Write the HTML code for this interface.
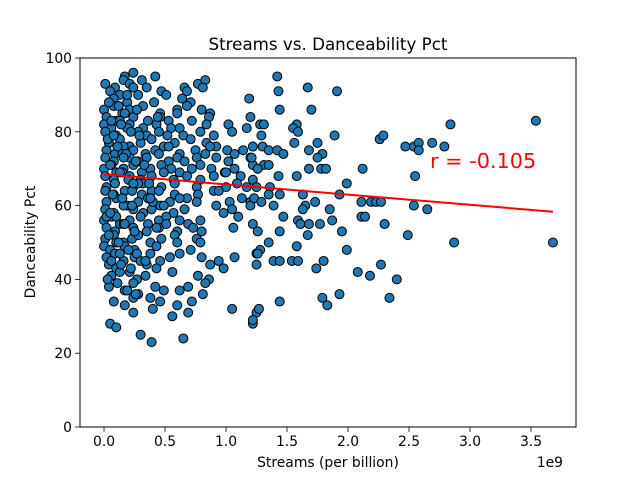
<!DOCTYPE html>
<html><head><meta charset="utf-8"><style>
html,body{margin:0;padding:0;background:#fff;}
svg{display:block;font-family:"DejaVu Sans","Liberation Sans",sans-serif;}
</style></head><body>
<svg id="chart" width="640" height="480" viewBox="0 0 640 480" xmlns="http://www.w3.org/2000/svg">
<rect width="640" height="480" fill="#fff"/>
<text x="328" y="50" text-anchor="middle" font-size="16.7">Streams vs. Danceability Pct</text>
<g id="points"></g>
<g id="fit"></g>
<rect x="80" y="58" width="496" height="369" fill="none" stroke="#000" stroke-width="1"/>
<g id="xticks"></g>
<g id="yticks"></g>
<text x="328" y="467" text-anchor="middle" font-size="13.9">Streams (per billion)</text>
<text x="563" y="467" text-anchor="end" font-size="13.9">1e9</text>
<text transform="translate(35,242) rotate(-90)" text-anchor="middle" font-size="13.9">Danceability Pct</text>
</svg>
<script>
const streams = [
0.17,0.24,0.31,0.42,
0.01,0.09,0.16,0.21,0.66,0.77,0.83,
0.05,0.13,0.24,0.47,0.51,0.68,0.81,
0.08,0.19,0.28,0.64,0.71,1.19,
0.00,0.08,0.15,0.21,0.32,0.46,0.60,0.68,0.80,0.87,
0.02,0.10,0.17,0.24,0.36,0.46,0.60,0.72,0.86,1.20,
0.00,0.06,0.13,0.21,0.32,0.43,0.53,0.62,0.84,1.02,1.17,1.28,
0.01,0.10,0.19,0.28,0.35,0.45,0.55,0.65,0.79,0.90,1.05,
0.04,0.13,0.21,0.30,0.39,0.49,0.58,0.71,0.84,0.92,
0.02,0.09,0.16,0.24,0.34,0.42,0.53,0.62,0.75,0.87,1.01,1.07,1.14,1.22,
0.01,0.08,0.15,0.21,0.28,0.35,0.45,0.53,0.60,0.66,0.76,0.83,0.92,1.02,1.20,
0.00,0.06,0.10,0.16,0.24,0.31,0.38,0.47,0.55,0.62,0.72,0.79,0.88,0.99,1.07,1.22,
0.01,0.08,0.15,0.21,0.30,0.39,0.49,0.57,0.68,0.79,0.90,1.00,1.12,1.22,
0.02,0.09,0.17,0.24,0.32,0.39,0.47,0.58,0.76,0.90,1.00,1.09,1.17,
0.01,0.08,0.15,0.23,0.31,0.38,0.45,0.58,0.68,0.77,0.94,
0.02,0.10,0.19,0.28,0.36,0.46,0.54,0.62,0.76,0.92,1.03,1.13,1.20,
0.01,0.08,0.16,0.24,0.32,0.39,0.49,0.57,0.66,0.98,1.05,1.20,
0.00,0.06,0.13,0.21,0.30,0.36,0.45,0.51,0.62,0.69,0.79,1.10,
0.02,0.09,0.16,0.24,0.35,0.45,0.51,0.60,0.73,0.80,1.06,1.22,
0.01,0.08,0.16,0.23,0.28,0.38,0.47,0.58,0.76,0.79,
0.00,0.05,0.10,0.17,0.25,0.43,0.60,0.71,
0.02,0.09,0.16,0.25,0.38,0.46,0.54,0.62,0.80,0.94,1.07,1.25,
0.04,0.10,0.30,0.35,0.43,0.87,0.98,
0.06,0.13,0.27,0.34,0.56,0.77,0.86,
0.04,0.17,0.24,0.42,0.62,0.69,0.83,
0.28,0.38,0.49,0.81,
0.08,0.17,0.24,0.46,0.60,0.72,
0.24,0.40,0.56,0.69,1.05,1.25,
0.05,0.10,1.22,
0.30,0.65,
0.39,
0.04,0.12,0.19,0.27,0.06,0.14,0.22,0.29,0.03,0.11,0.18,0.26,0.05,0.13,0.20,0.28,0.07,0.15,0.23,0.02,
0.10,0.17,0.25,0.04,0.12,0.20,0.27,0.06,0.14,0.21,0.03,0.11,0.19,0.26,0.08,0.16,0.24,0.05,0.13,0.22,
0.35,0.41,0.33,0.44,0.37,0.40,0.52,0.34,0.43,0.38,
1.42,1.43,1.67,1.91,1.44,1.70,1.31,1.58,1.55,1.59,1.29,1.89,1.56,1.75,1.30,1.35,1.42,1.68,1.47,1.79,1.75,1.21,1.31,1.35,1.26,1.68,1.78,1.82,2.12,
2.26,2.29,2.47,2.54,2.58,2.58,2.69,2.79,2.84,3.54,2.55,1.43,1.58,1.99,1.36,1.25,1.44,1.63,1.93,1.35,1.23,1.29,1.39,1.73,1.65,2.11,2.19,2.23,2.27,2.54,2.65,1.85,1.63,
1.47,2.11,2.14,1.59,1.61,1.68,1.77,1.87,2.30,1.44,1.26,1.67,1.95,2.49,2.87,3.68,1.35,1.58,1.28,1.26,1.99,
1.39,1.44,1.54,1.59,1.80,1.25,1.74,2.08,2.18,2.27,2.40,1.93,1.79,1.83,2.34,1.44,1.27,1.22
];
const danceability = [
95,96,94,95,
93,92,94,93,92,93,94,
91,90,92,91,90,91,92,
89,88,90,89,88,89,
86,87,85,86,87,85,86,87,86,85,
84,83,85,84,83,84,85,83,84,84,
82,81,83,82,81,82,83,81,82,82,81,82,
80,79,81,80,79,80,81,79,80,79,80,
77,78,76,77,78,76,77,78,77,76,
75,74,76,75,74,75,76,74,75,76,75,74,75,76,
73,72,74,73,72,73,74,72,73,72,73,74,73,72,73,
70,71,69,70,71,69,70,71,70,69,70,71,70,69,70,71,
68,67,69,68,67,68,69,67,68,67,68,69,68,67,
65,66,64,65,66,64,65,66,65,64,65,66,65,
64,63,62,64,63,62,64,63,62,63,64,
61,62,60,61,62,60,61,62,61,60,61,62,61,
59,58,60,59,58,59,60,58,59,58,59,60,
56,57,55,56,57,55,56,57,56,55,56,57,
54,53,55,54,53,54,55,53,54,53,54,55,
51,52,50,51,52,50,51,52,51,50,
49,48,50,49,48,49,50,48,
46,47,45,46,47,45,46,47,46,45,46,47,
44,43,45,44,43,44,43,
41,42,40,41,42,41,40,
38,37,39,38,37,38,39,
36,35,37,36,
34,33,35,34,33,34,
31,32,30,31,32,31,
28,27,28,
25,24,
23,
88,87,90,86,83,82,80,79,78,76,74,72,71,69,67,66,63,62,60,57,
57,55,53,52,50,48,47,45,44,42,40,39,37,36,79,73,66,58,47,43,
92,88,71,84,66,61,79,45,54,62,
95,91,92,91,86,86,82,82,81,80,79,79,77,77,76,75,75,75,74,74,73,73,71,71,70,70,70,70,70,
78,79,76,76,77,75,77,76,82,83,68,68,68,66,65,65,63,63,63,63,62,61,60,61,60,61,61,61,61,60,59,59,59,
57,57,57,56,55,55,55,56,55,53,53,52,53,52,50,50,50,49,48,47,48,
45,45,45,45,45,44,43,42,41,44,40,36,35,33,35,34,32,29
];
const xTickValues = [0,0.5,1.0,1.5,2.0,2.5,3.0,3.5];
const xTickLabels = ["0.0","0.5","1.0","1.5","2.0","2.5","3.0","3.5"];
const yTickValues = [0,20,40,60,80,100];
const yTickLabels = ["0","20","40","60","80","100"];
const fitSlope = [-2.76];
const fitIntercept = [68.5];
const rLabel = ["r = -0.105"];

const NS = "http://www.w3.org/2000/svg";
const X0=80,X1=576,Y0=58,Y1=427;
const xMin=-0.197,xMax=3.869,yMin=0,yMax=100;
function sx(v){return X0+(v-xMin)/(xMax-xMin)*(X1-X0);}
function sy(v){return Y1-(v-yMin)/(yMax-yMin)*(Y1-Y0);}
function mk(tag,attrs,parent){const e=document.createElementNS(NS,tag);for(const k in attrs)e.setAttribute(k,attrs[k]);parent.appendChild(e);return e;}

const pg=document.getElementById('points');
for(let i=0;i<streams.length;i++){
  const c=mk('circle',{cx:sx(streams[i]),cy:sy(danceability[i]),r:4.5,fill:'#1f77b4',stroke:'#000','stroke-width':1},pg);
  
  
}
const fg=document.getElementById('fit');
const xa=Math.min(...streams), xb=Math.max(...streams);
const ln=mk('line',{x1:sx(xa),y1:sy(fitIntercept[0]+fitSlope[0]*xa),x2:sx(xb),y2:sy(fitIntercept[0]+fitSlope[0]*xb),stroke:'#ff0000','stroke-width':2},fg);


const rt=mk('text',{x:430,y:168,fill:'#ff0000','font-size':20.8},fg);
rt.textContent=rLabel[0];



const xg=document.getElementById('xticks');
xTickValues.forEach((v,i)=>{
  const x=sx(v);
  const t=mk('line',{x1:x,y1:Y1,x2:x,y2:Y1+4.9,stroke:'#000','stroke-width':0.8},xg);
  
  
  const l=mk('text',{x:x,y:Y1+19,'text-anchor':'middle','font-size':13.9},xg);
  l.textContent=xTickLabels[i];
  
  
});
const yg=document.getElementById('yticks');
yTickValues.forEach((v,i)=>{
  const y=sy(v);
  const t=mk('line',{x1:X0-4.9,y1:y,x2:X0,y2:y,stroke:'#000','stroke-width':0.8},yg);
  
  
  const l=mk('text',{x:X0-8,y:y+5,'text-anchor':'end','font-size':13.9},yg);
  l.textContent=yTickLabels[i];
  
  
});
</script>
</body></html>
